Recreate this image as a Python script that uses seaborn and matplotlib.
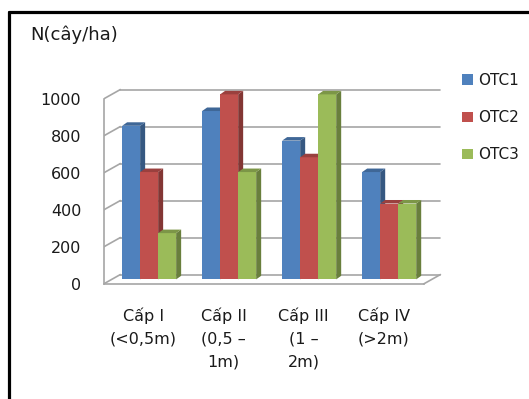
import pandas as pd
import matplotlib
matplotlib.use('Agg')
import matplotlib.pyplot as plt
import seaborn as sns
from matplotlib.patches import Polygon, Patch
from matplotlib.lines import Line2D
from matplotlib.colors import to_rgb

#Data
categories = ['Cấp I\n(<0,5m)', 'Cấp II\n(0,5 –\n1m)', 'Cấp III\n(1 –\n2m)', 'Cấp IV\n(>2m)']
series = ['OTC1', 'OTC2', 'OTC3']
otc1 = [830, 910, 750, 580]
otc2 = [580, 1000, 660, 410]
otc3 = [250, 580, 1000, 410]
yticks = [0, 200, 400, 600, 800, 1000]
colors = ['#4F81BD', '#C0504D', '#9BBB59']

df = pd.DataFrame({
    'cap': categories * 3,
    'otc': [s for s in series for _ in categories],
    'n': otc1 + otc2 + otc3,
})

sns.set_style('white')
plt.rcParams['font.family'] = ['DejaVu Sans']
text_color = '#1a1a1a'
grid_color = '#a6a6a6'

fig = plt.figure(figsize=(5.29, 3.99), dpi=100)
ax = fig.add_axes([0.1957, 0.2697, 0.658, 0.5286])

sns.barplot(data=df, x='cap', y='n', hue='otc', palette=colors, saturation=1,
            width=0.675, dodge=True, legend=False, ax=ax, zorder=5)

#pseudo 3d depth (data units)
dxg, dyg = 0.21, 51      # back wall offset
offx, offy = 0.07, 25    # bars sit mid-depth
dxb, dyb = 0.0625, 19    # bar side/top depth

def shade(c, f):
    r, g, b = to_rgb(c)
    return (r * f, g * f, b * f)

#back wall gridlines
for v in yticks:
    ax.plot([-0.5, -0.5 + dxg], [v, v + dyg], color=grid_color, lw=1.2, zorder=1)
    ax.plot([-0.5 + dxg, 3.5 + dxg], [v + dyg, v + dyg], color=grid_color, lw=1.2, zorder=1)
ax.plot([3.5, 3.5 + dxg], [0, dyg], color=grid_color, lw=1.2, zorder=1)

#3d faces on bars, painted left to right
bars = sorted(ax.patches, key=lambda p: p.get_x())
z = 5
for p in bars:
    fc = p.get_facecolor()
    p.set_x(p.get_x() + offx)
    p.set_y(offy)
    p.set_edgecolor('none')
    x0, w, h = p.get_x(), p.get_width(), p.get_height()
    x1, top = x0 + w, offy + h
    side = Polygon([(x1, offy), (x1 + dxb, offy + dyb), (x1 + dxb, top + dyb), (x1, top)],
                   closed=True, facecolor=shade(fc, 0.68), edgecolor='none')
    cap = Polygon([(x0, top), (x0 + dxb, top + dyb), (x1 + dxb, top + dyb), (x1, top)],
                  closed=True, facecolor=shade(fc, 0.8), edgecolor='none')
    p.set_zorder(z)
    side.set_zorder(z + 0.1)
    cap.set_zorder(z + 0.2)
    ax.add_patch(side)
    ax.add_patch(cap)
    z += 1

ax.set_xlim(-0.5, 3.85)
ax.set_ylim(-40, 1100)
ax.set_xlabel('')
ax.set_ylabel('')

for s in ['top', 'right']:
    ax.spines[s].set_visible(False)
ax.spines['left'].set_bounds(0, 1000)
ax.spines['left'].set_position(('data', -0.5))
ax.spines['bottom'].set_position(('data', 0))
ax.spines['bottom'].set_bounds(-0.5, 3.5)
for s in ['left', 'bottom']:
    ax.spines[s].set_color(grid_color)
    ax.spines[s].set_linewidth(1.2)
    ax.spines[s].set_zorder(2)

ax.set_yticks(yticks)
ax.tick_params(axis='y', length=5, width=1.2, color=grid_color, pad=11,
               labelsize=11.5, labelcolor=text_color)
ax.set_xticks(range(len(categories)))
ax.set_xticklabels(categories, linespacing=1.65)
ax.set_xticks([-0.5, 0.5, 1.5, 2.5, 3.5], minor=True)
ax.tick_params(axis='x', which='major', length=0, pad=17, labelsize=11.5, labelcolor=text_color)
ax.tick_params(axis='x', which='minor', length=6, width=1.2, color=grid_color)
for lbl in ax.get_xticklabels():
    lbl.set_verticalalignment('top')

fig.text(30 / 529, 1 - 35 / 399, 'N(cây/ha)', fontsize=13, color=text_color, va='center')

handles = [Patch(facecolor=c, edgecolor='none') for c in colors]
fig.legend(handles, series, loc='upper left', bbox_to_anchor=(456 / 529, 1 - 67 / 399),
           frameon=False, fontsize=11, handlelength=0.7, handleheight=0.7,
           handletextpad=0.35, labelspacing=1.45, borderaxespad=0, labelcolor=text_color)

#black outer frame (left and top edges only visible)
fig.add_artist(Line2D([8.5 / 529, 8.5 / 529], [0, 1 - 11.5 / 399], color='black', lw=2.3,
                      transform=fig.transFigure))
fig.add_artist(Line2D([8.5 / 529, 1], [1 - 11.5 / 399, 1 - 11.5 / 399], color='black', lw=2.3,
                      transform=fig.transFigure))

plt.savefig('out.png', dpi=100)
